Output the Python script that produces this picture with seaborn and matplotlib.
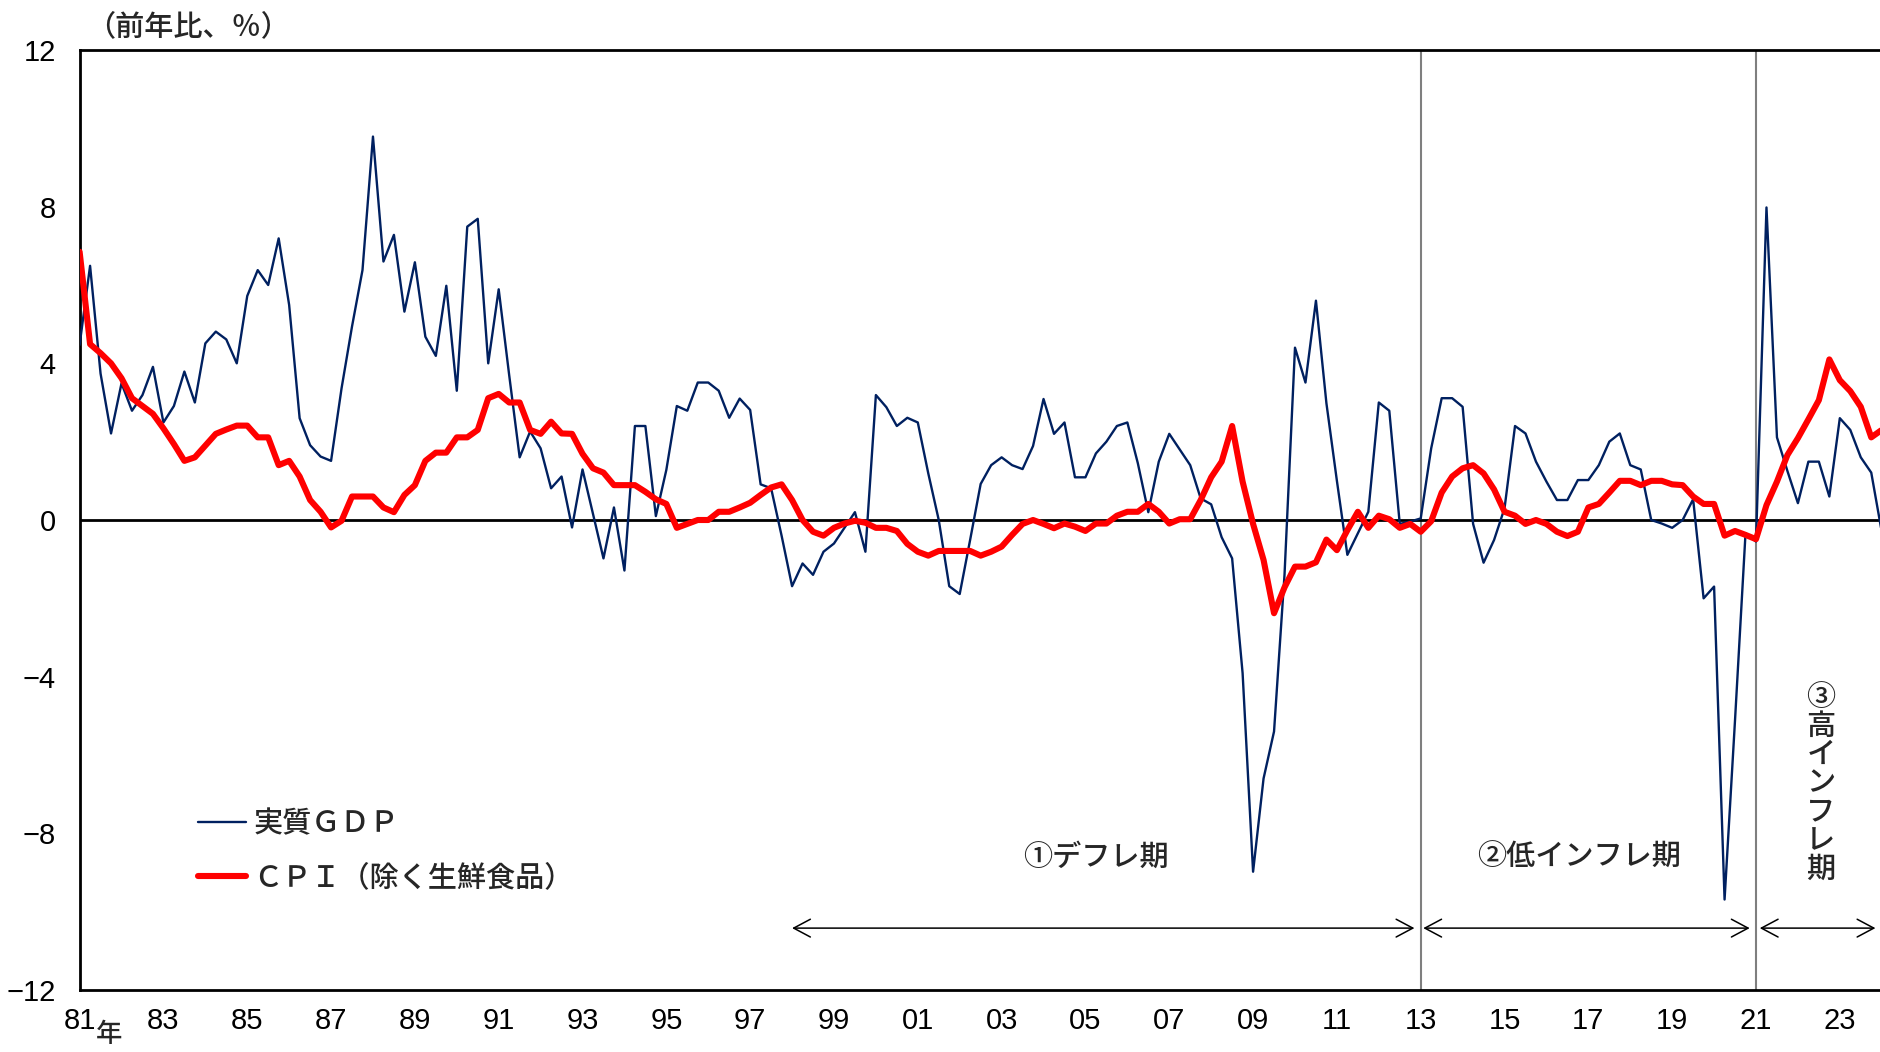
import numpy as np
import pandas as pd
import matplotlib
matplotlib.use("Agg")
import matplotlib.pyplot as plt
import seaborn as sns


START_YEAR = 1981

# quarterly, year-on-year %, 1981Q1 ..
gdp_yoy = [
    4.47, 6.49, 3.74, 2.21,    # 81
    3.49, 2.79, 3.19, 3.91,    # 82
    2.49, 2.91, 3.79, 3.00,    # 83
    4.51, 4.81, 4.61, 4.00,    # 84
    5.72, 6.38, 6.00, 7.19,    # 85
    5.49, 2.60, 1.91, 1.62,    # 86
    1.51, 3.36, 4.94, 6.38,    # 87
    9.79, 6.60, 7.28, 5.32,    # 88
    6.58, 4.68, 4.19, 5.98,    # 89
    3.30, 7.49, 7.69, 4.00,    # 90
    5.89, 3.70, 1.60, 2.26,    # 91
    1.83, 0.81, 1.11, -0.19,   # 92
    1.29, 0.15, -0.98, 0.32,   # 93
    -1.29, 2.40, 2.40, 0.10,   # 94
    1.28, 2.91, 2.79, 3.51,    # 95
    3.51, 3.30, 2.61, 3.10,    # 96
    2.81, 0.91, 0.81, -0.40,   # 97
    -1.69, -1.11, -1.40, -0.81,  # 98
    -0.60, -0.20, 0.20, -0.81,   # 99
    3.19, 2.88, 2.40, 2.61,    # 00
    2.49, 1.19, 0.00, -1.69,   # 01
    -1.89, -0.50, 0.92, 1.40,  # 02
    1.60, 1.40, 1.30, 1.89,    # 03
    3.09, 2.20, 2.49, 1.09,    # 04
    1.09, 1.70, 2.00, 2.40,    # 05
    2.49, 1.45, 0.20, 1.49,    # 06
    2.20, 1.80, 1.40, 0.55,    # 07
    0.40, -0.44, -0.98, -3.91,  # 08
    -8.98, -6.60, -5.40, -1.40,  # 09
    4.40, 3.51, 5.60, 2.98,    # 10
    1.00, -0.89, -0.34, 0.21,  # 11
    3.00, 2.79, -0.10, -0.04,  # 12
    0.04, 1.83, 3.11, 3.11,    # 13
    2.89, -0.10, -1.09, -0.51,  # 14
    0.30, 2.40, 2.21, 1.49,    # 15
    0.98, 0.51, 0.51, 1.02,    # 16
    1.02, 1.40, 2.00, 2.21,    # 17
    1.40, 1.29, 0.00, -0.09,   # 18
    -0.20, 0.00, 0.53, -2.00,  # 19
    -1.70, -9.69, -5.10, -0.34,  # 20
    -0.55, 7.98, 2.11, 1.25,   # 21
    0.43, 1.49, 1.49, 0.60,    # 22
    2.60, 2.30, 1.60, 1.21,    # 23
    -0.30,                     # 24
]

cpi_core_yoy = [
    6.85, 4.49, 4.26, 4.00,    # 81
    3.62, 3.11, 2.91, 2.71,    # 82
    2.34, 1.94, 1.51, 1.60,    # 83
    1.90, 2.20, 2.31, 2.41,    # 84
    2.41, 2.11, 2.11, 1.40,    # 85
    1.51, 1.11, 0.51, 0.21,    # 86
    -0.19, -0.02, 0.60, 0.60,  # 87
    0.60, 0.32, 0.20, 0.64,    # 88
    0.89, 1.51, 1.72, 1.72,    # 89
    2.11, 2.11, 2.30, 3.11,    # 90
    3.22, 3.00, 3.00, 2.30,    # 91
    2.20, 2.51, 2.21, 2.20,    # 92
    1.69, 1.32, 1.21, 0.89,    # 93
    0.89, 0.89, 0.72, 0.53,    # 94
    0.41, -0.20, -0.10, 0.00,  # 95
    0.00, 0.21, 0.21, 0.32,    # 96
    0.44, 0.64, 0.83, 0.91,    # 97
    0.51, 0.00, -0.30, -0.40,  # 98
    -0.20, -0.09, -0.02, -0.07,  # 99
    -0.20, -0.20, -0.28, -0.61,  # 00
    -0.81, -0.91, -0.79, -0.79,  # 01
    -0.79, -0.79, -0.91, -0.81,  # 02
    -0.68, -0.38, -0.10, 0.00,   # 03
    -0.10, -0.21, -0.09, -0.17,  # 04
    -0.28, -0.09, -0.09, 0.11,   # 05
    0.21, 0.21, 0.41, 0.21,    # 06
    -0.09, 0.02, 0.02, 0.51,   # 07
    1.09, 1.49, 2.40, 0.98,    # 08
    -0.10, -1.02, -2.38, -1.72,  # 09
    -1.19, -1.19, -1.08, -0.50,  # 10
    -0.77, -0.26, 0.21, -0.20,   # 11
    0.11, 0.02, -0.20, -0.10,  # 12
    -0.30, -0.03, 0.70, 1.11,  # 13
    1.32, 1.40, 1.19, 0.78,    # 14
    0.21, 0.11, -0.10, 0.00,   # 15
    -0.10, -0.30, -0.41, -0.30,  # 16
    0.32, 0.41, 0.70, 1.00,    # 17
    1.00, 0.89, 1.00, 1.00,    # 18
    0.91, 0.89, 0.60, 0.41,    # 19
    0.41, -0.40, -0.28, -0.38,  # 20
    -0.49, 0.38, 0.98, 1.66,   # 21
    2.09, 2.57, 3.06, 4.10,    # 22
    3.57, 3.29, 2.89, 2.11,    # 23
    2.30,                      # 24
]

series_names = ["実質ＧＤＰ", "ＣＰＩ（除く生鮮食品）"]
regime_breaks = [2013, 2021]
period_names = ["①デフレ期", "②低インフレ期", "③高インフレ期"]
period_start = [1998.0, 2013.0, 2021.0]
period_end = [2013.0, 2021.0, 2024.0]

y_ticks = [-12, -8, -4, 0, 4, 8, 12]

NAVY = "#002060"
RED = "#ff0000"
NARROW = ["Liberation Sans Narrow", "Liberation Sans", "DejaVu Sans"]
CJK = ["Noto Sans CJK JP", "DejaVu Sans"]


def build_frame():
    quarter = np.arange(len(gdp_yoy))
    return pd.DataFrame({
        "year": START_YEAR + quarter / 4,
        "gdp": gdp_yoy,
        "cpi": cpi_core_yoy,
    })


def main():
    sns.set_style("white")
    plt.rcParams["font.family"] = CJK
    plt.rcParams["axes.unicode_minus"] = True

    df = build_frame()

    fig = plt.figure(figsize=(18.8, 10.52), dpi=100)
    ax = fig.add_axes([79.6 / 1880, 1 - 990 / 1052, 1 - 79.6 / 1880, 940 / 1052])

    sns.lineplot(data=df, x="year", y="gdp", color=NAVY, linewidth=1.7,
                 label=series_names[0], ax=ax, zorder=3)
    sns.lineplot(data=df, x="year", y="cpi", color=RED, linewidth=4.4,
                 label=series_names[1], ax=ax, zorder=4)

    ax.axhline(0, color="black", lw=2.0, zorder=2)
    for yr in regime_breaks:
        ax.axvline(yr, color="#7f7f7f", lw=1.5, zorder=1)

    x_right = START_YEAR + (1880 - 79.6) / 41.91
    ax.set_xlim(START_YEAR, x_right)
    ax.set_ylim(-12, 12)

    years = list(range(START_YEAR, 2024))
    ax.set_xticks(years)
    ax.set_xticklabels([f"{y % 100:02d}" if (y - START_YEAR) % 2 == 0 else "" for y in years])
    ax.set_yticks(y_ticks)
    ax.set_yticklabels([str(v).replace("-", "\u2212") for v in y_ticks])
    ax.set_xlabel("")
    ax.set_ylabel("")

    ax.tick_params(axis="x", direction="in", length=6, width=1.5, pad=12,
                   labelsize=21, colors="black")
    ax.tick_params(axis="y", direction="out", length=5, width=1.5, pad=12,
                   labelsize=21, colors="black")
    for lab in ax.get_xticklabels() + ax.get_yticklabels():
        lab.set_family(NARROW)

    for side in ["left", "bottom", "top"]:
        ax.spines[side].set_visible(True)
        ax.spines[side].set_color("black")
        ax.spines[side].set_linewidth(2.0)
    ax.spines["right"].set_visible(False)

    # period annotations
    arrow_y = -10.42
    gaps = [(0.0, 0.15), (0.06, 0.15), (0.09, 0.15)]
    for name, s, e, (g0, g1) in zip(period_names, period_start, period_end, gaps):
        ax.annotate("", xy=(e - g1, arrow_y), xytext=(s + g0, arrow_y),
                    arrowprops=dict(arrowstyle="<->,head_length=0.6,head_width=0.32",
                                    lw=1.1, color="black", shrinkA=0, shrinkB=0,
                                    mutation_scale=20))
    label_y = -8.6
    ax.text(2005.25, label_y, period_names[0], ha="center", va="center",
            fontsize=21, family=CJK, weight="medium")
    ax.text(2016.78, label_y, period_names[1], ha="center", va="center",
            fontsize=21, family=CJK, weight="medium")
    ax.text(2022.55, -6.72, "\n".join(period_names[2]), ha="center", va="center",
            fontsize=21, family=CJK, weight="medium", linespacing=0.9)

    fig.text(86 / 1880, 1 - 27 / 1052, "（前年比、％）", ha="left", va="center",
             fontsize=21, family=CJK, weight="medium")
    fig.text(109 / 1880, 1 - 1034 / 1052, "年", ha="center", va="center",
             fontsize=19, family=CJK, weight="medium")

    leg = ax.legend(loc="upper left", bbox_to_anchor=(198 / 1880, 1 - 808 / 1052),
                    bbox_transform=fig.transFigure, frameon=False, fontsize=21,
                    handlelength=1.65, handletextpad=0.25, labelspacing=0.8,
                    borderpad=0, borderaxespad=0)
    for t in leg.get_texts():
        t.set_family(CJK)
        t.set_weight("medium")

    fig.savefig("out.png", dpi=100)


if __name__ == "__main__":
    main()
